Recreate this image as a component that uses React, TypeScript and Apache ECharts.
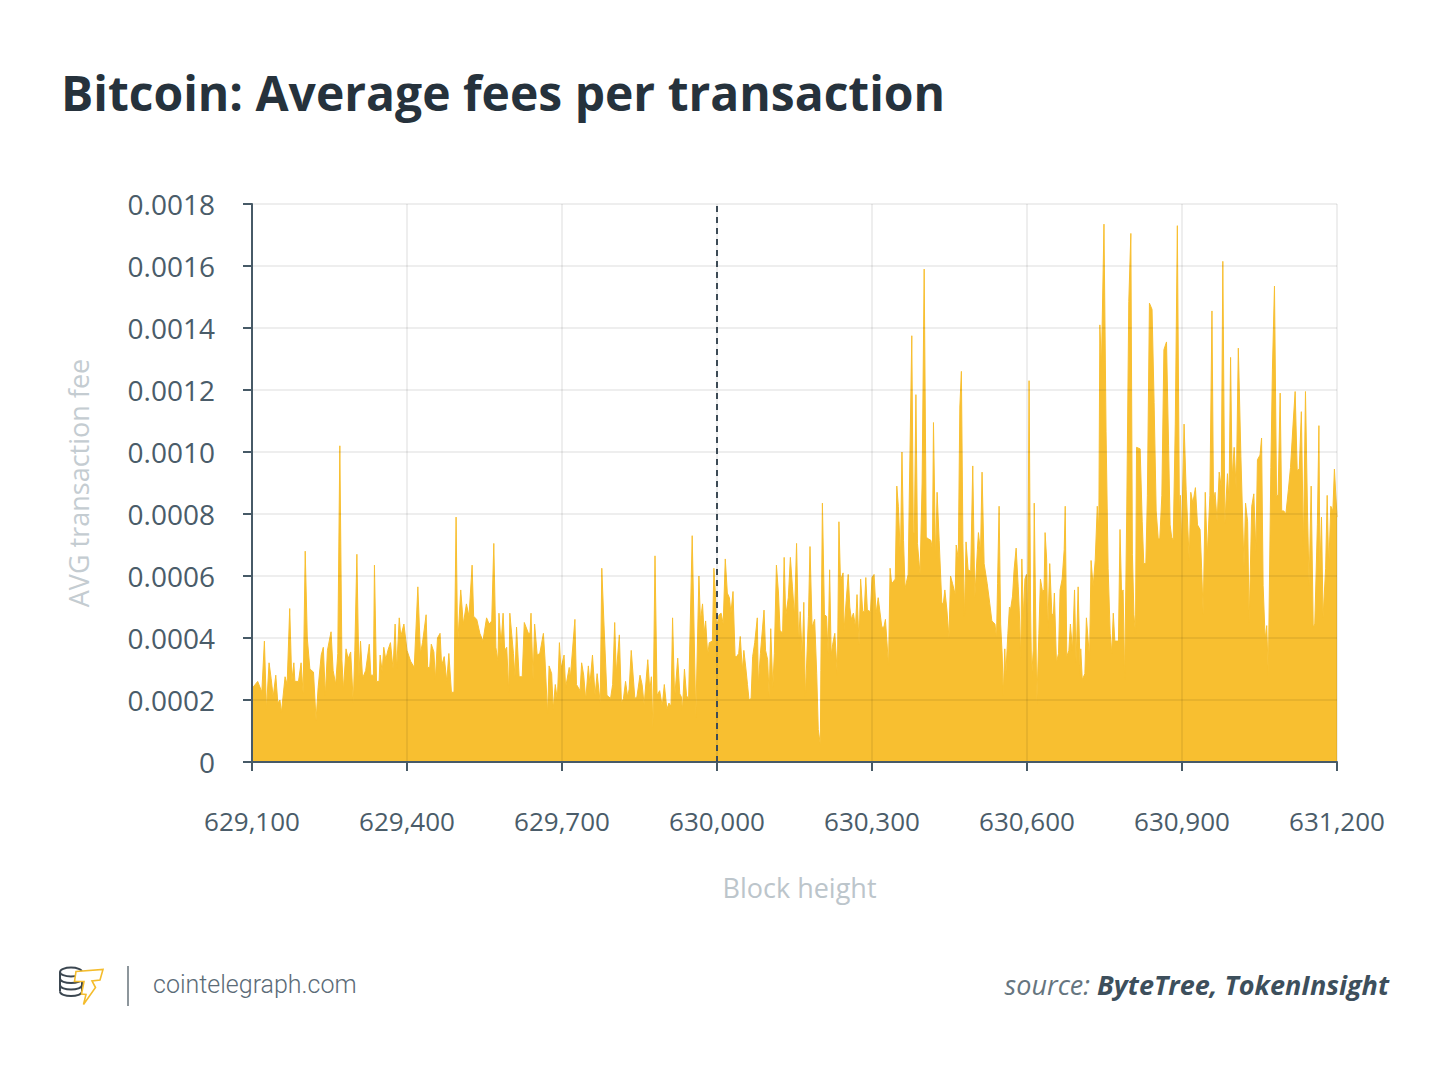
import React, { useEffect, useRef } from "react";
import * as echarts from "echarts";

// Block heights and average fee per transaction (in units of 0.0001 BTC)
const blocks: number[] = [
  629100, 629111, 629119, 629124, 629128, 629133, 629137, 629141, 629146, 629150,
  629154, 629157, 629164, 629168, 629173, 629177, 629181, 629183, 629190, 629195,
  629199, 629203, 629207, 629212, 629219, 629224, 629228, 629234, 629238, 629242,
  629246, 629253, 629257, 629262, 629266, 629270, 629274, 629277, 629282, 629286,
  629291, 629296, 629299, 629303, 629307, 629310, 629314, 629320, 629327, 629330,
  629335, 629337, 629341, 629346, 629348, 629352, 629355, 629359, 629363, 629368,
  629373, 629377, 629380, 629385, 629388, 629394, 629400, 629407, 629414, 629421,
  629426, 629430, 629437, 629440, 629444, 629447, 629452, 629455, 629459, 629464,
  629467, 629472, 629477, 629481, 629486, 629491, 629495, 629498, 629504, 629509,
  629515, 629520, 629526, 629529, 629535, 629541,
  629547, 629554, 629559, 629564, 629568, 629572, 629576, 629578, 629582, 629586,
  629589, 629593, 629597, 629599, 629606, 629609, 629612, 629617, 629623, 629627,
  629635, 629638, 629640, 629644, 629647, 629652, 629657, 629664, 629667, 629672,
  629675, 629680, 629683, 629687, 629691, 629695, 629698, 629704, 629707, 629714,
  629716, 629725, 629728, 629735, 629738, 629742, 629746, 629751, 629754, 629759,
  629764, 629768, 629774, 629777, 629781, 629787, 629794, 629798, 629802, 629805,
  629811, 629815, 629819, 629823, 629827, 629830, 629834, 629841, 629845, 629851,
  629855, 629859, 629866, 629870, 629873, 629876, 629880, 629884, 629889, 629894,
  629898, 629903, 629907, 629911, 629914, 629918, 629924, 629928, 629931, 629933,
  629937, 629941, 629945, 629952, 629959, 629965, 629968, 629972, 629975, 629978,
  629982, 629985, 629991, 629994, 629997,
  629999, 630004, 630008, 630012, 630016, 630020, 630024, 630027, 630031, 630035,
  630038, 630042, 630045, 630049, 630052, 630056, 630059, 630062, 630066, 630069,
  630073, 630078, 630080, 630084, 630091, 630094, 630098, 630101, 630104, 630108,
  630111, 630115, 630119, 630122, 630127, 630130, 630133, 630138, 630142, 630146,
  630150, 630154, 630158, 630161, 630165, 630168, 630171, 630177, 630180, 630184,
  630189, 630193, 630196, 630200, 630201, 630204, 630208, 630212, 630215, 630218,
  630221, 630224, 630228, 630233, 630236, 630239, 630244, 630246, 630250, 630254,
  630257, 630260, 630264, 630268, 630271, 630275, 630278, 630282, 630285, 630288,
  630291, 630297, 630300, 630304, 630308, 630312,
  630319, 630323, 630326, 630332, 630335, 630338, 630345, 630348, 630351, 630355,
  630358, 630361, 630364, 630370, 630372, 630377, 630380, 630382, 630385, 630388,
  630393, 630397, 630401, 630405, 630409, 630414, 630417, 630419, 630423, 630426,
  630430, 630435, 630438, 630441, 630445, 630449, 630452, 630456, 630461, 630463,
  630467, 630470, 630473, 630476, 630479, 630482, 630486, 630491, 630495, 630499,
  630504, 630506, 630510, 630513, 630517, 630523, 630528, 630532, 630538, 630541,
  630543, 630546, 630549, 630552, 630554, 630557, 630559, 630563, 630566, 630568,
  630572, 630575, 630579, 630583, 630585, 630588, 630590, 630593, 630596, 630599,
  630601, 630604, 630607, 630609, 630612, 630614, 630619, 630623, 630626, 630630,
  630633, 630635, 630638, 630640, 630644, 630648, 630651, 630653, 630657, 630661,
  630664, 630668, 630672, 630674, 630677, 630681, 630684, 630688, 630692, 630695,
  630699, 630703, 630704, 630707, 630712, 630715, 630721, 630724, 630728, 630732,
  630736, 630739, 630741, 630744,
  630749, 630753, 630757, 630761, 630764, 630767, 630770, 630777, 630780, 630783,
  630786, 630789, 630793, 630797, 630801, 630804, 630807, 630810, 630812, 630819,
  630823, 630826, 630830, 630833, 630837, 630842, 630846, 630850, 630854, 630857,
  630861, 630865, 630870, 630874, 630877, 630880, 630883, 630887, 630891, 630895,
  630897, 630899, 630904, 630908, 630914, 630917, 630921, 630926, 630930, 630935,
  630938, 630941, 630945, 630949, 630954, 630958, 630961, 630964, 630968, 630972,
  630976, 630979, 630983, 630988, 630991, 630994, 630997, 631001, 631005, 631009,
  631014, 631020, 631023, 631027, 631030, 631035, 631039, 631043, 631046, 631051,
  631054, 631057, 631061, 631064, 631067, 631072, 631075, 631079, 631083, 631086,
  631090, 631093, 631097, 631101, 631106, 631110, 631115, 631119, 631123, 631127,
  631131, 631135, 631139, 631143, 631146, 631150, 631154, 631157, 631162, 631165,
  631167, 631170, 631173, 631178, 631181, 631184, 631188, 631192, 631195, 631200,
];

const feesE4: number[] = [
  2.37, 2.6, 2.26, 3.9, 1.7, 3.2, 2.7, 2.1, 2.8, 1.9,
  2.0, 1.6, 2.75, 2.5, 4.95, 2.6, 3.2, 2.6, 2.6, 3.2,
  2.2, 6.8, 4.0, 3.0, 2.9, 1.35, 2.4, 3.45, 3.7, 2.15,
  3.6, 4.2, 2.95, 2.5, 3.5, 10.2, 3.3, 2.33, 3.65, 3.33,
  3.55, 1.9, 3.6, 6.7, 2.75, 3.9, 2.7, 2.95, 3.8, 2.8,
  2.8, 6.35, 2.6, 2.6, 3.45, 2.9, 3.7, 3.3, 3.6, 3.85,
  3.0, 4.45, 3.0, 4.65, 4.05, 4.45, 3.6, 3.25, 3.05, 5.65,
  3.5, 3.85, 4.75, 3.05, 3.05, 3.8, 3.55, 2.65, 4.0, 4.15,
  3.1, 3.4, 2.6, 3.5, 2.25, 2.25, 7.9, 3.75, 5.55, 4.45,
  5.1, 4.7, 6.35, 4.7, 4.6, 4.15,
  3.9, 4.65, 4.45, 4.55, 7.05, 3.7, 3.25, 4.8, 3.8, 4.8,
  3.6, 3.7, 2.25, 4.8, 3.5, 2.75, 4.35, 2.75, 2.75, 4.5,
  4.15, 4.15, 4.8, 2.65, 4.45, 3.45, 3.5, 4.15, 3.35, 1.55,
  3.1, 2.85, 1.7, 2.5, 2.0, 3.85, 3.0, 3.45, 2.4, 3.05,
  2.7, 4.6, 2.5, 2.3, 3.2, 2.8, 2.0, 3.1, 2.5, 3.45,
  2.15, 2.85, 1.9, 6.25, 4.55, 2.15, 2.05, 2.5, 4.5, 2.85,
  4.1, 1.9, 2.05, 2.6, 2.1, 2.35, 3.6, 2.05, 2.1, 2.8,
  2.5, 1.85, 3.3, 2.3, 2.75, 1.1, 6.65, 2.15, 2.3, 1.8,
  2.5, 1.7, 1.9, 1.8, 4.65, 2.05, 3.35, 2.2, 2.1, 1.65,
  3.0, 2.15, 2.0, 7.3, 1.45, 6.0, 4.55, 5.1, 4.15, 4.55,
  3.45, 3.85, 3.9, 6.25, 5.4,
  4.3, 4.75, 4.8, 4.45, 6.55, 5.45, 5.3, 4.8, 5.5, 3.4,
  3.4, 3.5, 4.05, 2.95, 3.6, 3.0, 2.5, 2.0, 2.05, 3.4,
  3.85, 4.65, 2.5, 3.5, 4.9, 3.6, 3.3, 2.1, 4.3, 2.4,
  3.5, 6.35, 5.45, 4.25, 4.15, 6.6, 4.7, 5.3, 6.6, 5.65,
  4.7, 7.05, 3.8, 4.85, 3.35, 5.15, 2.1, 4.7, 6.95, 4.35,
  4.6, 2.85, 1.05, 0.55, 2.95, 8.35, 4.75, 4.7, 3.5, 6.2,
  3.45, 3.8, 4.15, 2.8, 7.75, 5.85, 6.1, 4.25, 5.2, 6.05,
  5.0, 4.6, 4.8, 4.35, 5.4, 3.8, 5.9, 4.85, 4.85, 5.95,
  4.9, 4.85, 5.95, 6.05, 4.8, 5.3,
  4.35, 4.35, 4.6, 3.1, 6.25, 5.75, 5.9, 8.9, 8.25, 6.6,
  10.0, 7.15, 5.6, 6.05, 8.35, 13.75, 7.4, 7.4, 11.85, 7.05,
  6.05, 9.0, 15.9, 7.25, 7.2, 7.15, 6.85, 10.95, 6.55, 8.7,
  7.15, 5.15, 5.1, 5.55, 4.9, 4.0, 6.0, 5.75, 5.4, 7.0,
  6.55, 11.45, 12.6, 7.05, 4.7, 7.1, 6.2, 6.15, 9.55, 5.3,
  6.85, 7.4, 6.75, 9.35, 6.4, 5.75, 5.1, 4.55, 4.45, 4.0,
  5.75, 8.25, 4.45, 3.45, 2.15, 3.65, 2.8, 4.15, 5.0, 4.9,
  5.35, 6.2, 6.9, 5.65, 4.9, 3.35, 6.55, 4.7, 5.9, 6.05,
  4.05, 12.3, 4.9, 2.7, 3.6, 8.35, 1.9, 4.15, 5.9, 5.5,
  5.55, 7.4, 6.55, 4.15, 6.4, 4.8, 4.7, 5.45, 3.2, 3.5,
  5.55, 5.9, 6.85, 8.25, 3.4, 3.6, 4.45, 3.6, 5.55, 3.2,
  5.65, 2.8, 3.65, 2.65, 2.85, 4.65, 3.35, 6.5, 5.65, 6.5,
  8.25, 7.5, 14.1, 12.75,
  17.35, 10.65, 6.25, 4.15, 3.5, 4.8, 3.9, 3.9, 7.5, 5.45,
  5.55, 2.65, 8.0, 14.85, 17.05, 6.7, 4.75, 4.15, 10.15, 10.1,
  7.75, 6.4, 6.4, 8.6, 14.8, 14.6, 11.6, 8.1, 7.2, 7.2,
  8.6, 13.3, 13.55, 10.2, 7.65, 7.25, 7.15, 10.9, 17.3, 8.0,
  8.6, 6.95, 10.9, 8.8, 6.5, 8.7, 8.35, 8.85, 7.65, 7.5,
  6.25, 4.75, 8.7, 6.65, 8.6, 14.55, 8.35, 8.7, 7.75, 9.35,
  8.85, 16.15, 7.7, 9.3, 8.4, 13.05, 9.15, 10.15, 8.75, 13.35,
  9.85, 6.3, 8.35, 7.75, 4.5, 8.25, 8.65, 6.8, 9.75, 9.9,
  10.45, 5.7, 3.95, 4.4, 2.8, 9.5, 12.65, 15.35, 8.6, 8.6,
  11.9, 8.1, 8.1, 8.0, 8.8, 9.5, 10.9, 11.95, 9.4, 9.45,
  11.3, 6.95, 11.95, 8.0, 5.7, 8.9, 4.35, 4.45, 7.65, 10.85,
  6.15, 7.9, 4.65, 6.25, 8.6, 6.25, 8.25, 8.1, 9.45, 7.9,
];

const UNIT = 0.0001;
const xMin = 629100;
const xMax = 631200;
const xStep = 300;
const halvingBlock = 630000;
const yMax = 0.0018;
const yStep = 0.0002;

const titleText = "Bitcoin: Average fees per transaction";
const xName = "Block height";
const yName = "AVG transaction fee";
const siteText = "cointelegraph.com";
const sourceLabel = "source: ";
const sourceNames = "ByteTree, TokenInsight";

const AXIS = "#475a67";
const LABEL = "#4a5c69";
const FILL = "#F8BF30";

function halfEllipse(cy: number, color: string) {
  // lower half of a coin rim (cubic approximation of a half ellipse)
  return {
    type: "bezierCurve",
    shape: { x1: 60, y1: cy, cpx1: 60, cpy1: cy + 6, cpx2: 82, cpy2: cy + 6, x2: 82, y2: cy },
    style: { fill: "none", stroke: color, lineWidth: 2 },
  };
}

export default function App() {
  const ref = useRef<HTMLDivElement>(null);

  useEffect(() => {
    if (!ref.current) return;
    const chart = echarts.init(ref.current, undefined, { renderer: "svg" });
    const data = blocks.map((b, i) => [b, feesE4[i] * UNIT]);

    const coinColor = "#3b4650";
    const gold = "#F4BC2C";

    const option: any = {
      animation: false,
      backgroundColor: "#ffffff",
      textStyle: { fontFamily: "Open Sans" },
      grid: { left: 252, right: 113, top: 204, bottom: 305, outerBoundsMode: "none" },
      xAxis: {
        type: "value",
        min: xMin,
        max: xMax,
        interval: xStep,
        z: 3,
        name: xName,
        nameLocation: "middle",
        nameGap: 112,
        nameTextStyle: { fontSize: 27, color: "#bcc5cb", fontFamily: "Open Sans", padding: [0, 0, 0, 10] },
        axisLine: { show: true, lineStyle: { color: AXIS, width: 2 } },
        axisTick: { show: true, length: 9, lineStyle: { color: AXIS, width: 2 } },
        axisLabel: {
          margin: 46,
          fontSize: 26,
          color: LABEL,
          fontFamily: "Open Sans",
          formatter: (v: number) => v.toLocaleString("en-US"),
        },
        splitLine: { show: true, lineStyle: { color: "rgba(0,0,0,0.065)", width: 2 } },
      },
      yAxis: {
        type: "value",
        min: 0,
        max: yMax,
        interval: yStep,
        z: 3,
        name: yName,
        nameLocation: "middle",
        nameGap: 160,
        nameTextStyle: { fontSize: 27, color: "#c4ccd1", fontFamily: "Open Sans" },
        axisLine: { show: true, lineStyle: { color: AXIS, width: 2 } },
        axisTick: { show: true, length: 9, lineStyle: { color: AXIS, width: 2 } },
        axisLabel: {
          margin: 37,
          fontSize: 28,
          color: LABEL,
          fontFamily: "Open Sans",
          formatter: (v: number) => (Math.abs(v) < 1e-12 ? "0" : v.toFixed(4)),
        },
        splitLine: { show: true, lineStyle: { color: "rgba(0,0,0,0.065)", width: 2 } },
      },
      series: [
        {
          type: "line",
          data,
          showSymbol: false,
          symbol: "none",
          z: 2,
          lineStyle: { color: FILL, width: 1 },
          areaStyle: { color: FILL, opacity: 1 },
          markLine: {
            silent: true,
            symbol: ["none", "none"],
            label: { show: false },
            lineStyle: { color: "#3d4b56", width: 2, type: [6, 5] },
            data: [{ xAxis: halvingBlock }],
          },
        },
      ],
      graphic: [
        {
          type: "text",
          left: 61,
          top: 68,
          style: {
            text: titleText,
            fontFamily: "Open Sans",
            fontWeight: "bold",
            fontSize: 48,
            fill: "#26323c",
          },
        },
        // logo: coin stack
        { type: "ellipse", shape: { cx: 71, cy: 972, rx: 11, ry: 4.5 }, style: { fill: "none", stroke: coinColor, lineWidth: 2 } },
        halfEllipse(978.5, coinColor),
        halfEllipse(985, coinColor),
        halfEllipse(991.5, coinColor),
        { type: "line", shape: { x1: 60, y1: 972, x2: 60, y2: 991.5 }, style: { stroke: coinColor, lineWidth: 2 } },
        { type: "line", shape: { x1: 82, y1: 972, x2: 82, y2: 991.5 }, style: { stroke: coinColor, lineWidth: 2 } },
        // logo: lightning T
        {
          type: "polygon",
          z: 20,
          shape: {
            points: [
              [76, 971.5], [103, 969.5], [100, 980], [92, 981], [95.5, 987.5],
              [83.5, 1004.5], [86, 994.5], [81.5, 994], [84, 981.5], [74.5, 981.5],
            ],
          },
          style: { fill: "#ffffff", stroke: gold, lineWidth: 1.6, lineJoin: "miter" },
        },
        // separator
        { type: "line", shape: { x1: 128, y1: 966, x2: 128, y2: 1006 }, style: { stroke: "#8d969c", lineWidth: 2 } },
        {
          type: "text",
          left: 153,
          top: 972,
          style: {
            text: siteText,
            fontFamily: "Roboto",
            fontWeight: 300,
            fontSize: 25,
            fill: "#5b6b77",
          },
        },
        {
          type: "text",
          right: 61,
          top: 971,
          style: {
            text: `{a|${sourceLabel}}{b|${sourceNames}}`,
            rich: {
              a: { fontFamily: "Open Sans", fontStyle: "italic", fontSize: 27, fill: "#66757f", color: "#66757f" },
              b: { fontFamily: "Open Sans", fontStyle: "italic", fontWeight: "bold", fontSize: 27, fill: "#3d4f5c", color: "#3d4f5c" },
            },
          },
        },
      ],
    };

    chart.setOption(option);
    return () => chart.dispose();
  }, []);

  return (
    <div
      ref={ref}
      style={{ position: "fixed", left: 0, top: 0, width: 1450, height: 1067, background: "#fff" }}
    />
  );
}
